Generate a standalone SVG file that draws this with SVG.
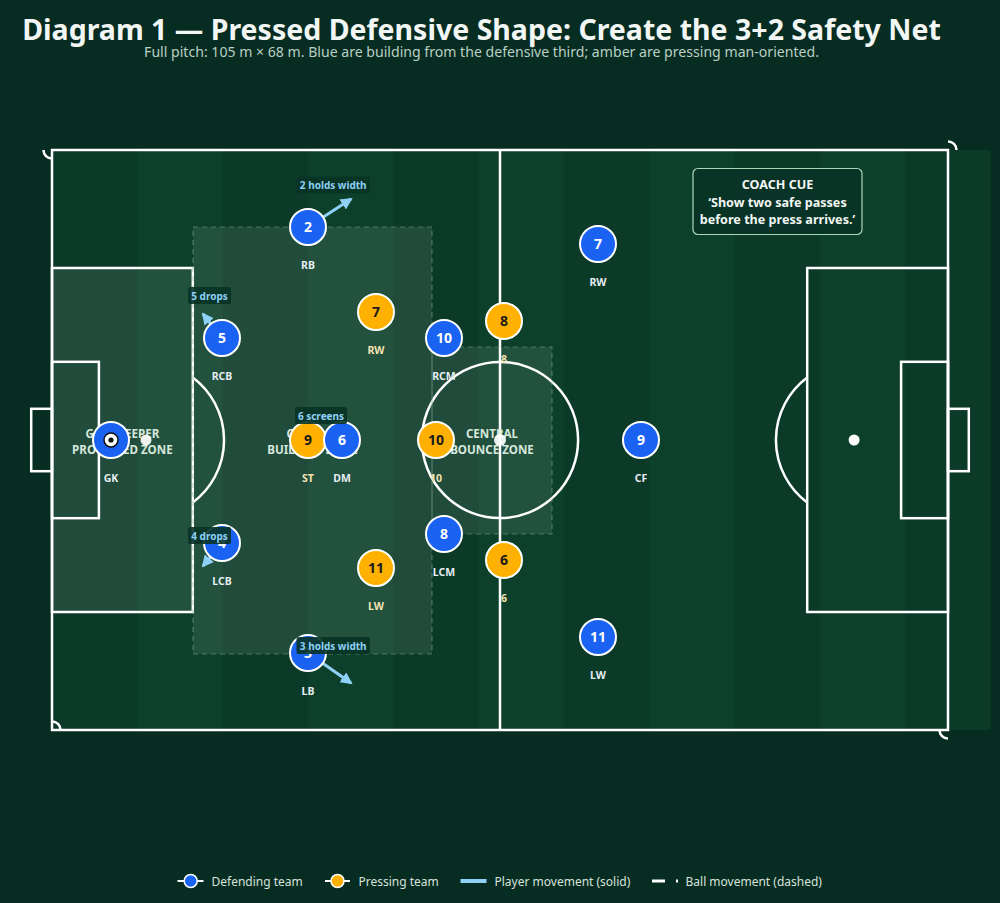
<svg xmlns="http://www.w3.org/2000/svg" width="1000" height="903" viewBox="0 0 1000 903">
<defs>
<style>
.t{font-family:"Noto Sans","DejaVu Sans",sans-serif}
.line{fill:none;stroke:#ffffff;stroke-width:2.5}
.zone{fill:#ffffff;fill-opacity:0.09}
.dz{fill:#ffffff;fill-opacity:0.09;stroke:#7fae93;stroke-opacity:0.5;stroke-width:1.2;stroke-dasharray:5 4}
.zl{font-family:"Noto Sans","DejaVu Sans",sans-serif;font-size:11.6px;font-weight:700;fill:#d6e8dc;text-anchor:middle}
.blue{fill:#1a62f2;stroke:#ffffff;stroke-width:2}
.amber{fill:#ffb000;stroke:#ffffff;stroke-width:2}
.nb{font-family:"Noto Sans","DejaVu Sans",sans-serif;font-size:14px;font-weight:700;fill:#ffffff;text-anchor:middle}
.na{font-family:"Noto Sans","DejaVu Sans",sans-serif;font-size:14px;font-weight:700;fill:#1b1b1b;text-anchor:middle}
.lb{font-family:"Noto Sans","DejaVu Sans",sans-serif;font-size:10.5px;font-weight:700;fill:#e6edf2;text-anchor:middle}
.la{font-family:"Noto Sans","DejaVu Sans",sans-serif;font-size:10.5px;font-weight:700;fill:#f5e3b3;text-anchor:middle}
.mv{fill:none;stroke:#8fd0f7;stroke-width:3;marker-end:url(#ah)}
.ab{fill:#083326;fill-opacity:0.9}
.at{font-family:"Noto Sans","DejaVu Sans",sans-serif;font-size:10px;font-weight:700;fill:#8fd0f7;text-anchor:middle}
.lg{font-family:"Noto Sans","DejaVu Sans",sans-serif;font-size:12px;fill:#d6e2dc}
.cc{font-family:"Noto Sans","DejaVu Sans",sans-serif;font-size:12.6px;font-weight:700;fill:#f2f6f4;text-anchor:middle}
</style>
<marker id="ah" markerUnits="userSpaceOnUse" markerWidth="12" markerHeight="12" refX="10" refY="6" orient="auto" viewBox="0 0 12 12">
<path d="M0,0 L12,6 L0,12 z" fill="#8fd0f7"/>
</marker>
</defs>
<rect x="0" y="0" width="1000" height="903" fill="#072c21"/>
<g id="title">
<text class="t" x="481.5" y="40" font-size="28.5" font-weight="700" fill="#f2f6f4" text-anchor="middle">Diagram 1 — Pressed Defensive Shape: Create the 3+2 Safety Net</text>
<text class="t" x="481.5" y="57" font-size="14.1" fill="#b9cfc4" text-anchor="middle">Full pitch: 105 m × 68 m. Blue are building from the defensive third; amber are pressing man-oriented.</text>
</g>
<g id="pitch">
<rect x="52" y="150" width="938.7" height="580" fill="#0b3a28"/>
<rect x="137.3" y="150" width="85.3" height="580" fill="#0d402b"/>
<rect x="308" y="150" width="85.3" height="580" fill="#0d402b"/>
<rect x="478.7" y="150" width="85.3" height="580" fill="#0d402b"/>
<rect x="649.3" y="150" width="85.3" height="580" fill="#0d402b"/>
<rect x="820" y="150" width="85.3" height="580" fill="#0d402b"/>
<rect x="52" y="150" width="896" height="580" class="line"/>
<line x1="500" y1="150" x2="500" y2="730" class="line"/>
<circle cx="500" cy="440" r="78.1" class="line"/>
<rect x="52" y="268" width="140.8" height="344" class="line"/>
<rect x="52" y="361.8" width="46.9" height="156.4" class="line"/>
<rect x="31.2" y="408.8" width="20.8" height="62.4" class="line"/>
<path d="M192.8,377.5 A78.1,78.1 0 0 1 192.8,502.5" class="line"/>
<rect x="807.2" y="268" width="140.8" height="344" class="line"/>
<rect x="901.1" y="361.8" width="46.9" height="156.4" class="line"/>
<rect x="948" y="408.8" width="20.8" height="62.4" class="line"/>
<path d="M807.2,377.5 A78.1,78.1 0 0 0 807.2,502.5" class="line"/>
<circle cx="854.1" cy="440" r="5.5" fill="#ffffff"/>
<path d="M43.5,150 A8.5,8.5 0 0 0 52,158.5" class="line"/>
<path d="M948,141.5 A8.5,8.5 0 0 1 956.5,150" class="line"/>
<path d="M939.5,730 A8.5,8.5 0 0 0 948,738.5" class="line"/>
<path d="M52,721.5 A8.5,8.5 0 0 1 60.5,730" class="line"/>
</g>
<g id="zones">
<rect id="gk-zone" x="52" y="268" width="140.8" height="344" class="zone"/>
<rect id="build-zone" x="193" y="227" width="239" height="427" class="dz"/>
<rect id="bounce-zone" x="432" y="347" width="120" height="187" class="dz"/>
<text class="zl" x="122.4" y="438">GOALKEEPER</text>
<text class="zl" x="122.4" y="454">PROTECTED ZONE</text>
<text class="zl" x="312.5" y="438">CENTRAL</text>
<text class="zl" x="312.5" y="454">BUILD-UP ZONE</text>
<text class="zl" x="492" y="438">CENTRAL</text>
<text class="zl" x="492" y="454">BOUNCE ZONE</text>
</g>
<circle cx="146" cy="440" r="5.5" fill="#ffffff" fill-opacity="0.92"/>
<circle cx="500" cy="440" r="6" fill="#ffffff" fill-opacity="0.92"/>
<g id="connectors">
<line x1="308" y1="227" x2="351" y2="199" class="mv"/>
<line x1="222" y1="338" x2="203" y2="314" class="mv"/>
<line x1="222" y1="543" x2="203" y2="566" class="mv"/>
<line x1="308" y1="653" x2="351" y2="683" class="mv"/>
</g>
<g id="amber-7"><circle cx="376" cy="312" r="18" class="amber"/><text class="na" x="376" y="317">7</text><text class="la" x="376" y="354">RW</text></g>
<g id="amber-8"><circle cx="504" cy="321" r="18" class="amber"/><text class="na" x="504" y="326">8</text><text class="la" x="504" y="363">8</text></g>
<g id="amber-9"><circle cx="308" cy="440" r="18" class="amber"/><text class="na" x="308" y="445">9</text><text class="la" x="308" y="482">ST</text></g>
<g id="amber-10"><circle cx="436" cy="440" r="18" class="amber"/><text class="na" x="436" y="445">10</text><text class="la" x="436" y="482">10</text></g>
<g id="amber-11"><circle cx="376" cy="568" r="18" class="amber"/><text class="na" x="376" y="573">11</text><text class="la" x="376" y="610">LW</text></g>
<g id="amber-6"><circle cx="504" cy="560" r="18" class="amber"/><text class="na" x="504" y="565">6</text><text class="la" x="504" y="602">6</text></g>
<g id="blue-gk"><circle cx="111" cy="440" r="18" class="blue"/><circle cx="111" cy="440" r="7" fill="#ffffff" stroke="#111111" stroke-width="1.5"/><circle cx="111" cy="440" r="2.6" fill="#111111"/><text class="lb" x="111" y="482">GK</text></g>
<g id="blue-2"><circle cx="308" cy="227" r="18" class="blue"/><text class="nb" x="308" y="232">2</text><text class="lb" x="308" y="269">RB</text></g>
<g id="blue-5"><circle cx="222" cy="338" r="18" class="blue"/><text class="nb" x="222" y="343">5</text><text class="lb" x="222" y="380">RCB</text></g>
<g id="blue-4"><circle cx="222" cy="543" r="18" class="blue"/><text class="nb" x="222" y="548">4</text><text class="lb" x="222" y="585">LCB</text></g>
<g id="blue-3"><circle cx="308" cy="653" r="18" class="blue"/><text class="nb" x="308" y="658">3</text><text class="lb" x="308" y="695">LB</text></g>
<g id="blue-6"><circle cx="342" cy="440" r="18" class="blue"/><text class="nb" x="342" y="445">6</text><text class="lb" x="342" y="482">DM</text></g>
<g id="blue-10"><circle cx="444" cy="338" r="18" class="blue"/><text class="nb" x="444" y="343">10</text><text class="lb" x="444" y="380">RCM</text></g>
<g id="blue-8"><circle cx="444" cy="534" r="18" class="blue"/><text class="nb" x="444" y="539">8</text><text class="lb" x="444" y="576">LCM</text></g>
<g id="blue-7"><circle cx="598" cy="244" r="18" class="blue"/><text class="nb" x="598" y="249">7</text><text class="lb" x="598" y="286">RW</text></g>
<g id="blue-9"><circle cx="641" cy="440" r="18" class="blue"/><text class="nb" x="641" y="445">9</text><text class="lb" x="641" y="482">CF</text></g>
<g id="blue-11"><circle cx="598" cy="637" r="18" class="blue"/><text class="nb" x="598" y="642">11</text><text class="lb" x="598" y="679">LW</text></g>
<g id="annotations">
<rect x="296.5" y="176.5" width="73.5" height="17" rx="2" class="ab"/><text class="at" x="333.2" y="189">2 holds width</text>
<rect x="188" y="287" width="43" height="17" rx="2" class="ab"/><text class="at" x="209.5" y="299.5">5 drops</text>
<rect x="295" y="407" width="52" height="17" rx="2" class="ab"/><text class="at" x="321" y="419.5">6 screens</text>
<rect x="188" y="527" width="43" height="17" rx="2" class="ab"/><text class="at" x="209.5" y="539.5">4 drops</text>
<rect x="296.5" y="637" width="73.5" height="17" rx="2" class="ab"/><text class="at" x="333.2" y="649.5">3 holds width</text>
</g>
<g id="coach-cue">
<rect x="693" y="168.5" width="169" height="66" rx="5" fill="#083326" fill-opacity="0.9" stroke="#a9d9bb" stroke-width="1.2"/>
<text class="cc" x="777.5" y="189">COACH CUE</text>
<text class="cc" x="777.5" y="206.5">‘Show two safe passes</text>
<text class="cc" x="777.5" y="224">before the press arrives.’</text>
</g>
<g id="legend">
<line x1="177.5" y1="881" x2="203.5" y2="881" stroke="#ffffff" stroke-width="2"/>
<circle cx="190.7" cy="881" r="6.5" fill="#1a62f2" stroke="#ffffff" stroke-width="1.5"/>
<text class="lg" x="211.5" y="885.5">Defending team</text>
<line x1="325" y1="881" x2="350" y2="881" stroke="#ffffff" stroke-width="2"/>
<circle cx="337.5" cy="881" r="6.5" fill="#ffb000" stroke="#ffffff" stroke-width="1.5"/>
<text class="lg" x="358.5" y="885.5">Pressing team</text>
<line x1="460.5" y1="881" x2="486.5" y2="881" stroke="#8fd0f7" stroke-width="4"/>
<text class="lg" x="494.5" y="885.5">Player movement (solid)</text>
<line x1="652" y1="881" x2="678" y2="881" stroke="#ffffff" stroke-width="3" stroke-dasharray="13 11"/>
<text class="lg" x="685.5" y="885.5">Ball movement (dashed)</text>
</g>
</svg>
